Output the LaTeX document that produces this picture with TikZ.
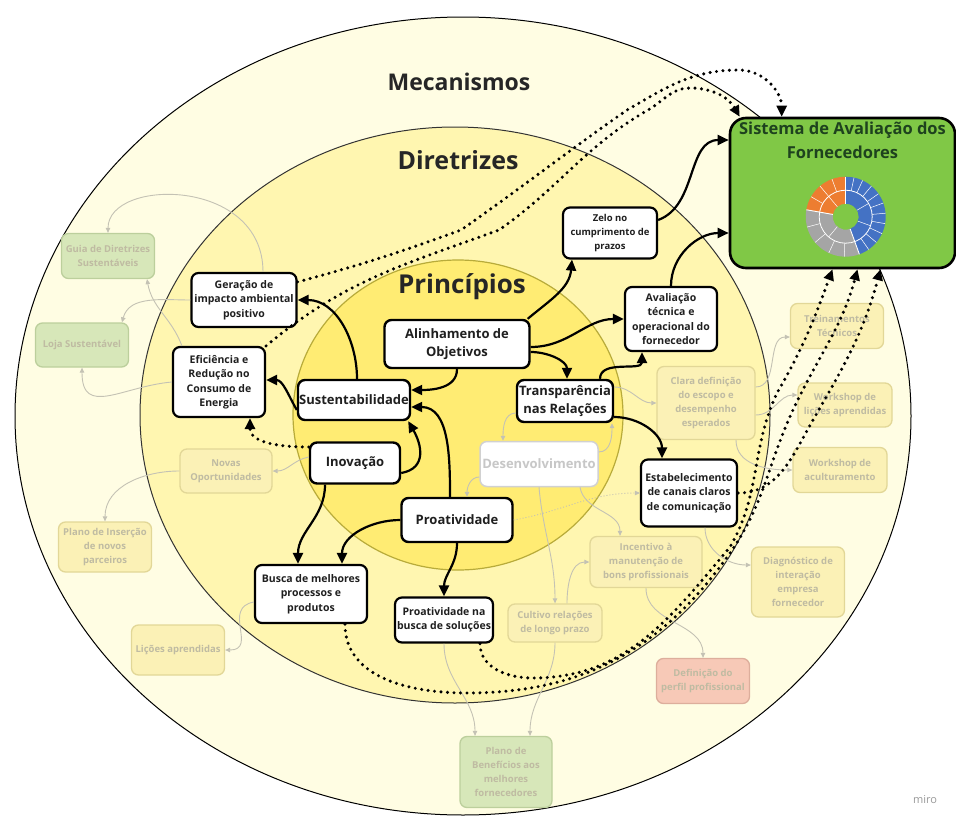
\documentclass[tikz,border=0pt]{standalone}
\usepackage{fontspec}
\setmainfont{Open Sans}
\usetikzlibrary{calc,arrows.meta}
\definecolor{ringout}{HTML}{FFFDE3}
\definecolor{ringmid}{HTML}{FFF6B0}
\definecolor{ringin}{HTML}{FFEC73}
\definecolor{ringinline}{HTML}{B8AB3A}
\definecolor{sistgreen}{HTML}{80C846}
\definecolor{sisttext}{HTML}{1E421E}
\definecolor{fadebox}{HTML}{FBF1B6}
\definecolor{fadeline}{HTML}{E2D797}
\definecolor{fadetext}{HTML}{BFBBA2}
\definecolor{fadegreen}{HTML}{D7E7B9}
\definecolor{fadegreenline}{HTML}{BCCF9C}
\definecolor{fadered}{HTML}{F7C9B7}
\definecolor{faderedline}{HTML}{DDAE9C}
\definecolor{fadearrow}{HTML}{C4C2B4}
\definecolor{pieorange}{HTML}{ED7D31}
\definecolor{piegray}{HTML}{A5A5A5}
\definecolor{pieblue}{HTML}{4472C4}
\def\ringpart[#1](#2)(#3:#4:#5:#6){\fill[#1] ($(#2)+(#3:#5)$) arc (#3:#4:#5) -- ($(#2)+(#4:#6)$) arc (#4:#3:#6) -- cycle;}
\tikzset{
  wh/.style 2 args={minimum width=#1, minimum height=#2},
  prin/.style={draw=black, line width=2.4pt, fill=white, rounded corners=7pt, align=center, text=black!88, inner sep=1pt, font=\bfseries\fontsize{13}{18}\selectfont},
  dir/.style={prin, line width=2.2pt, font=\bfseries\fontsize{10.5}{14.5}\selectfont},
  mec/.style={draw=fadeline, line width=1.3pt, fill=fadebox, rounded corners=7pt, align=center, text=fadetext, inner sep=1pt, font=\bfseries\fontsize{9.5}{14}\selectfont},
  mecgreen/.style={mec, draw=fadegreenline, fill=fadegreen},
  mecred/.style={mec, draw=faderedline, fill=fadered},
  ringtitle/.style={text=black!85, inner sep=0pt},
  arr/.style={line width=2.2pt, -{Triangle[length=11pt,width=10pt]}},
  dotarr/.style={line width=3.4pt, line cap=round, dash pattern=on 0pt off 6.5pt, -{Triangle[length=11pt,width=10pt]}},
  fline/.style={fadearrow, line width=0.9pt, -{Triangle[length=5pt,width=4.5pt]}},
}

\begin{document}
\begin{tikzpicture}[x=1pt,y=1pt]
			%%%%% START %%%%%
			\useasboundingbox (0,0) rectangle (956,-819);
			
			% the three rings
			\draw[fill=ringout, line width=1pt] (463,-416) ellipse [x radius=448pt, y radius=399pt];
			\draw[fill=ringmid, line width=1pt, draw=black!80] (455,-415) ellipse [x radius=315pt, y radius=288pt];
			\draw[fill=ringin, line width=1.2pt, draw=ringinline] (458,-415) ellipse [x radius=165pt, y radius=155pt];
			
			\node[ringtitle, font=\bfseries\fontsize{23}{26}\selectfont] (mectitle) at (459,-82) {Mecanismos};
			\node[ringtitle, font=\bfseries\fontsize{25}{28}\selectfont] (dirtitle) at (458,-160) {Diretrizes};
			\node[ringtitle, font=\bfseries\fontsize{26}{29}\selectfont] (printitle) at (462,-287) {Princípios};
			
			% sistema de avaliacao
			\node[draw=black, line width=2.6pt, fill=sistgreen, rounded corners=16pt, wh={225}{150}] (sist) at (842.5,-193) {};
			\node[anchor=north, inner sep=0pt, align=center, text=sisttext, font=\bfseries\fontsize{16.5}{24}\selectfont] (sisttitle) at ([yshift=-5]sist.north) {Sistema de Avaliação dos\\Fornecedores};
			\coordinate (pie) at (845.7,-216.7);
			\ringpart[pieorange](pie)(90:170:13pt:40pt)
			\ringpart[piegray](pie)(170:290:13pt:40pt)
			\ringpart[pieblue](pie)(290:450:13pt:40pt)
			\draw[white, line width=0.8pt] (pie) circle (26.5pt);
			\foreach \a in {90,170,290} \draw[white, line width=0.9pt] ($(pie)+(\a:13pt)$) -- ($(pie)+(\a:40pt)$);
			\foreach \a in {110,130,150,195,220,245,268,305,320,335,350,5,20,35,50,65,78} \draw[white, line width=0.5pt] ($(pie)+(\a:26.5pt)$) -- ($(pie)+(\a:40pt)$);
			\foreach \a in {130,230,340,30} \draw[white, line width=0.5pt] ($(pie)+(\a:13pt)$) -- ($(pie)+(\a:26.5pt)$);
			
			% mecanismos (faded)
			\node[mecgreen, wh={93}{45}] (guia) at (108,-256) {Guia de Diretrizes\\Sustentáveis};
			\node[mecgreen, wh={93}{44}] (loja) at (82,-345) {Loja Sustentável};
			\node[mec, wh={92}{44}] (novas) at (226,-471) {Novas\\Oportunidades};
			\node[mec, wh={93}{50}] (planoins) at (105,-547) {Plano de Inserção\\de novos\\parceiros};
			\node[mec, wh={93}{50}] (licoes) at (178,-650) {Lições aprendidas};
			\node[mecgreen, wh={92}{71}] (benef) at (506,-772) {Plano de\\Benefícios aos\\melhores\\fornecedores};
			\node[mec, wh={94}{38}] (cultivo) at (555,-623) {Cultivo relações\\de longo prazo};
			\node[mec, wh={112}{51}] (incent) at (646,-562) {Incentivo à\\manutenção de\\bons profissionais};
			\node[mecred, wh={93}{45}] (perfil) at (703,-681) {Definição do\\perfil profissional};
			\node[mec, wh={93}{70}] (diag) at (798,-582) {Diagnóstico de\\interação\\empresa\\fornecedor};
			\node[mec, wh={98}{73}] (clara) at (706,-403) {Clara definição\\do escopo e\\desempenho\\esperados};
			\node[mec, wh={93}{45}] (treina) at (837,-326) {Treinamentos\\Técnicos};
			\node[mec, wh={94}{44}] (wslic) at (845,-405) {Workshop de\\lições aprendidas};
			\node[mec, wh={94}{45}] (wsacult) at (840,-470) {Workshop de\\aculturamento};
			
			% diretrizes
			\node[dir, wh={105}{54}] (geracao) at (244,-300) {Geração de\\impacto ambiental\\positivo};
			\node[dir, wh={92}{70}] (efic) at (219,-382) {Eficiência e\\Redução no\\Consumo de\\Energia};
			\node[dir, wh={94}{51}, font=\bfseries\fontsize{9.5}{14}\selectfont] (zelo) at (610,-233) {Zelo no\\cumprimento de\\prazos};
			\node[dir, wh={92}{64}] (aval) at (671,-319) {Avaliação\\técnica e\\operacional do\\fornecedor};
			\node[dir, wh={96}{67}] (estab) at (689,-493) {Estabelecimento\\de canais claros\\de comunicação};
			\node[dir, wh={112}{58}] (busca) at (311,-594) {Busca de melhores\\processos e\\produtos};
			\node[dir, wh={98}{45}] (proatsol) at (444,-620) {Proatividade na\\busca de soluções};
			
			% principios
			\node[prin, wh={145}{48}] (alin) at (457,-344) {Alinhamento de\\Objetivos};
			\node[prin, wh={112}{40}] (sust) at (354,-400) {Sustentabilidade};
			\node[prin, wh={96}{42}] (transp) at (565,-401) {Transparência\\nas Relações};
			\node[prin, wh={90}{41}] (inov) at (355,-463) {Inovação};
			\node[prin, wh={111}{44}] (proat) at (457,-520) {Proatividade};
			\node[prin, wh={118}{45}, draw=black!18, line width=1.5pt, text=black!22] (desenv) at (539,-464) {Desenvolvimento};
			
			\node[text=black!40, font=\fontsize{11}{13}\selectfont] (mirologo) at (925,-800) {miro};
			
			% faded links
			\draw[fline] ([xshift=19]geracao.north) .. controls +(0,95) and +(0,55) .. (guia.north);
			\draw[fline] (geracao.west) to[out=180,in=75] ([xshift=40]loja.north);
			\draw[fline] (efic.west) to[out=185,in=-90, looseness=1.4] (loja.south);
			\draw[fline] ([xshift=10]efic.north west) to[out=110,in=-80] ([xshift=39]guia.south);
			\draw[fline] ([yshift=6]inov.west) to[out=190,in=0] (novas.east);
			\draw[fline] (novas.west) to[out=180,in=90] (planoins.north);
			\draw[fline] ([yshift=-8]busca.west) to[out=190,in=0, looseness=1.5] (licoes.east);
			\draw[fline] (proatsol.south) to[out=-90,in=90] ([xshift=-31]benef.north);
			\draw[fline] (cultivo.south) to[out=-90,in=90] ([xshift=24]benef.north);
			\draw[fline] (desenv.south) to[out=-85,in=90] (cultivo.north);
			\draw[fline] ([xshift=12]cultivo.north) to[out=90,in=180] (incent.west);
			\draw[fline] ([xshift=41]desenv.south) to[out=-80,in=90] ([xshift=-26]incent.north);
			\draw[fline, dash pattern=on 1pt off 2pt] (proat.east) to[out=10,in=180] (estab.west);
			\draw[fline] ([yshift=-12]transp.west) to[out=180,in=90] ([xshift=-36]desenv.north);
			\draw[fline] ([yshift=12]desenv.east) to[out=0,in=-90] ([xshift=47]transp.south);
			\draw[fline] ([yshift=-13]desenv.west) to[out=180,in=90] ([xshift=10]proat.north);
			\draw[fline] ([yshift=14]transp.east) to[out=0,in=180] (clara.west);
			\draw[fline] ([yshift=16]clara.east) to[out=0,in=180] ([yshift=-11]treina.west);
			\draw[fline] ([yshift=-12]clara.east) to[out=0,in=180] ([yshift=10]wslic.west);
			\draw[fline] ([xshift=30]clara.south) to[out=-90,in=180] (wsacult.west);
			\draw[fline] ([xshift=16]estab.south) to[out=-90,in=180] ([yshift=17]diag.west);
			\draw[fline] (incent.south) to[out=-90,in=90] (perfil.north);
			
			% black links
			\draw[arr] ([xshift=-3]alin.north east) to[out=40,in=-95] ([xshift=-38]zelo.south);
			\draw[arr] ([yshift=-3]alin.east) to[out=0,in=180] (aval.west);
			\draw[arr] ([yshift=-8]alin.east) to[out=0,in=90] ([xshift=2]transp.north);
			\draw[arr] (alin.south) to[out=-90,in=0] ([yshift=10]sust.east);
			\draw[arr] ([xshift=-7]proat.north) to[out=90,in=0] ([yshift=-7]sust.east);
			\draw[arr] ([yshift=-10]inov.east) to[out=10,in=-60, looseness=1.3] ([xshift=-3]sust.south east);
			\draw[arr] ([xshift=3]sust.north) to[out=90,in=0] (geracao.east);
			\draw[arr] ([yshift=-10]sust.west) to[out=120,in=0] ([yshift=2]efic.east);
			\draw[arr] ([xshift=-30]inov.south) to[out=-90,in=90] ([xshift=-13]busca.north);
			\draw[arr] (proat.west) to[out=180,in=90] ([xshift=31]busca.north);
			\draw[arr] (proat.south) to[out=-90,in=90] (proatsol.north);
			\draw[arr] ([xshift=35]transp.north) to[out=90,in=-90] ([xshift=-29]aval.south);
			\draw[arr] ([yshift=-16]transp.east) to[out=0,in=90] ([xshift=-27]estab.north);
			\draw[arr] ([yshift=13]zelo.east) to[out=20,in=180] ([yshift=53]sist.west);
			\draw[arr] (aval.north) to[out=90,in=180] ([yshift=-40]sist.west);
			
			% dotted links
			\draw[dotarr] ([yshift=-10]geracao.north east) to[out=15,in=200] (461,-230) to[out=35,in=215] (627,-110) to[out=30,in=180] (739,-70) to[out=0,in=90] ([xshift=53]sist.north west);
			\draw[dotarr] (efic.north east) to[out=40,in=200] (499,-230) to[out=35,in=210] (648,-110) to[out=30,in=180] (690,-88) to[out=0,in=120] ([xshift=11]sist.north west);
			\draw[dotarr] ([yshift=16]inov.west) to[out=180,in=-90] ([xshift=31]efic.south);
			\draw[dotarr] ([xshift=34]busca.south) to[out=-90,in=180] (467,-693) to[out=0,in=-125] (730,-553) to[out=55,in=-115] (793,-410) to[out=65,in=-105] ([xshift=15]sist.south);
			\draw[dotarr] ([xshift=36]proatsol.south) to[out=-90,in=180] (533,-678) to[out=0,in=-130] (730,-547) to[out=60,in=-115] (777,-393) to[out=60,in=-110] ([xshift=-10]sist.south);
			\draw[dotarr] (estab.east) to[out=0,in=-120] (813,-420) to[out=60,in=-105] ([xshift=38]sist.south);
			%%%%% END %%%%%
		\end{tikzpicture}
\end{document}
